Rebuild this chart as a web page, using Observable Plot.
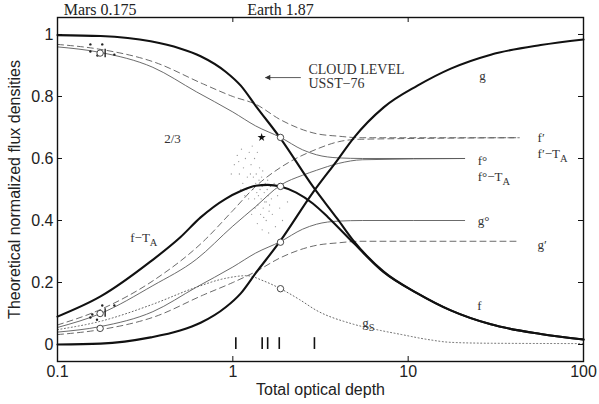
<!DOCTYPE html>
<html><head><meta charset="utf-8">
<script src="https://cdn.jsdelivr.net/npm/d3@7"></script>
<script src="https://cdn.jsdelivr.net/npm/@observablehq/plot@0.6"></script>
<style>body{margin:0;background:#fff}</style>
</head><body><div id="chart"></div>
<script>
// axes
const xTicks = [0.1, 1, 10, 100];
const xTickLabels = ["0.1", "1", "10", "100"];
const yTicks = [0, 0.2, 0.4, 0.6, 0.8, 1];
const yTickLabels = ["0", "0.2", "0.4", "0.6", "0.8", "1"];

// thick curves
const tauThick = [0.1, 0.176, 0.34, 0.5, 0.655, 0.91, 1.11, 1.35, 1.87, 2.86, 3.95, 4.87, 7.25, 11.3, 17.5, 29.6, 57, 100];
const gThick   = [0.0, 0.003, 0.023, 0.045, 0.07, 0.12, 0.165, 0.23, 0.335, 0.49, 0.595, 0.665, 0.765, 0.835, 0.89, 0.935, 0.966, 0.984];
const fThick   = [0.998, 0.995, 0.978, 0.955, 0.93, 0.88, 0.835, 0.77, 0.665, 0.51, 0.405, 0.335, 0.235, 0.165, 0.11, 0.065, 0.034, 0.016];
const tauFTA   = [0.1, 0.176, 0.34, 0.5, 0.655, 0.91, 1.11, 1.35, 1.58, 1.87, 2.3, 2.86, 3.5, 4.87, 7.25, 11.3, 17.5, 29.6, 57, 100];
const fTA      = [0.09, 0.155, 0.268, 0.345, 0.41, 0.47, 0.495, 0.512, 0.515, 0.51, 0.49, 0.455, 0.41, 0.328, 0.233, 0.165, 0.11, 0.065, 0.034, 0.016];

// thin solid (o) curves
const tauO   = [0.1, 0.176, 0.35, 0.62, 1.0, 1.35, 1.87, 2.5, 3.0, 4.0, 5.5, 21];
const fO     = [0.96, 0.942, 0.894, 0.815, 0.75, 0.705, 0.668, 0.628, 0.612, 0.602, 0.6, 0.6];
const fOTA   = [0.055, 0.10, 0.19, 0.275, 0.382, 0.445, 0.514, 0.546, 0.562, 0.584, 0.596, 0.6];
const gO     = [0.04, 0.058, 0.106, 0.185, 0.25, 0.295, 0.332, 0.372, 0.388, 0.398, 0.4, 0.4];

// thin dashed (') curves
const tauP   = [0.1, 0.176, 0.36, 0.68, 1.0, 1.35, 1.87, 3.0, 4.0, 5.3, 43];
const fP     = [0.968, 0.952, 0.91, 0.84, 0.80, 0.775, 0.725, 0.68, 0.672, 0.667, 0.667];
const fPTA   = [0.063, 0.113, 0.21, 0.333, 0.432, 0.51, 0.571, 0.63, 0.654, 0.662, 0.667];
const gP     = [0.032, 0.048, 0.09, 0.16, 0.20, 0.235, 0.28, 0.32, 0.328, 0.333, 0.333];

// dotted g_S
const tauS = [0.1, 0.176, 0.35, 0.6, 0.9, 1.2, 1.5, 1.87, 2.4, 3.0, 4.7, 7, 9, 13, 17.5, 30, 100];
const gS   = [0.048, 0.075, 0.13, 0.182, 0.213, 0.222, 0.205, 0.18, 0.145, 0.11, 0.068, 0.045, 0.033, 0.016, 0.007, 0.004, 0.003];

// model points (open circles) at Mars 0.175 and Earth 1.87
const circTau = [0.175, 0.175, 0.175, 1.87, 1.87, 1.87, 1.87];
const circVal = [0.94, 0.10, 0.052, 0.668, 0.51, 0.33, 0.18];

// observations near Mars
const marsTau = [0.154, 0.18, 0.154, 0.169, 0.211, 0.154, 0.158, 0.168, 0.18, 0.211];
const marsVal = [0.968, 0.968, 0.945, 0.932, 0.935, 0.087, 0.097, 0.08, 0.126, 0.126];
const barTau = [0.187, 0.187];
const barLo  = [0.925, 0.088];
const barHi  = [0.952, 0.115];

// observation cloud near Earth
const cloudTau = [1.30,1.33,1.35,1.37,1.39,1.41,1.43,1.45,1.47,1.49,1.51,1.53,1.55,1.57,1.59,1.62,1.64,1.66,1.34,1.40,1.46,1.52,1.58,1.44,1.50,1.36,1.42,1.48,1.31,1.61,
  1.02,1.06,1.09,1.12,1.15,1.18,1.21,1.24,1.27,1.29,1.14,1.20,1.26,1.08,1.33,1.38,1.23,1.17,0.98,1.11,
  1.28,1.38,1.55,1.68,1.75,1.47,1.60,1.85,1.72,1.80,1.92,2.05];
const cloudVal = [0.50,0.47,0.52,0.49,0.45,0.53,0.50,0.47,0.51,0.44,0.49,0.52,0.46,0.50,0.48,0.45,0.51,0.47,0.44,0.48,0.54,0.46,0.53,0.42,0.41,0.55,0.57,0.56,0.54,0.43,
  0.58,0.61,0.55,0.63,0.57,0.60,0.54,0.62,0.58,0.64,0.52,0.50,0.55,0.59,0.60,0.62,0.47,0.48,0.55,0.50,
  0.42,0.39,0.40,0.42,0.38,0.37,0.36,0.44,0.52,0.48,0.40,0.46];
const starTau = [1.46];
const starVal = [0.668];

// measured optical depths (bars at bottom)
const depthBars = [1.04, 1.47, 1.58, 1.84, 2.92];

// annotations
const curveLabels = [
  {t: 26.5, v: 0.868, s: "g", a: "middle"},
  {t: 54.7, v: 0.668, s: "f\u2032", a: "start"},
  {t: 54.7, v: 0.616, s: "f\u2032\u2212T_A", a: "start"},
  {t: 24.9, v: 0.592, s: "f\u00B0", a: "start"},
  {t: 24.9, v: 0.541, s: "f\u00B0\u2212T_A", a: "start"},
  {t: 24.9, v: 0.398, s: "g\u00B0", a: "start"},
  {t: 54.7, v: 0.320, s: "g\u2032", a: "start"},
  {t: 25.5, v: 0.126, s: "f", a: "middle"},
  {t: 5.94, v: 0.070, s: "g_S", a: "middle"},
  {t: 0.26, v: 0.345, s: "f\u2212T_A", a: "start"},
  {t: 0.453, v: 0.665, s: "2/3", a: "middle"}
];
const noteLines = ["CLOUD LEVEL", "USST\u221276"];
const noteTau = [2.70, 2.70];
const noteVal = [0.887, 0.842];
const topLabels = ["Mars 0.175", "Earth 1.87"];
const topTau = [0.175, 1.87];
const arrowFrom = [2.43], arrowTo = [1.54], arrowVal = [0.861];

const mk = (xs, ys) => xs.map((x, i) => ({x, y: ys[i]}));
const serif = "Liberation Serif, Times New Roman, serif";
const thin = {x: "x", y: "y", stroke: "#5a5a5a", strokeWidth: 0.9, curve: "monotone-x"};
const thick = {x: "x", y: "y", stroke: "#111", strokeWidth: 2.1, curve: "monotone-x"};

const chart = Plot.plot({
  width: 599, height: 404,
  marginLeft: 57, marginRight: 16, marginTop: 17, marginBottom: 43,
  x: {type: "log", domain: [0.1, 100], axis: null},
  y: {domain: [-0.0548, 1.0548], axis: null},
  style: {background: "#fff", fontFamily: "Liberation Sans, Arial, sans-serif", fontSize: "16px", color: "#111"},
  marks: [
    // cloud of observations
    Plot.dot(mk(cloudTau, cloudVal), {x: "x", y: "y", r: 0.65, fill: "#999", stroke: null}),
    // thin curves
    Plot.line(mk(tauO, fO), thin),
    Plot.line(mk(tauO, fOTA), thin),
    Plot.line(mk(tauO, gO), thin),
    Plot.line(mk(tauP, fP), {...thin, strokeDasharray: "6,4"}),
    Plot.line(mk(tauP, fPTA), {...thin, strokeDasharray: "6,4"}),
    Plot.line(mk(tauP, gP), {...thin, strokeDasharray: "6,4"}),
    Plot.line(mk(tauS, gS), {...thin, stroke: "#666", strokeWidth: 1, strokeDasharray: "1,2.5"}),
    // thick curves
    Plot.line(mk(tauThick, fThick), thick),
    Plot.line(mk(tauThick, gThick), thick),
    Plot.line(mk(tauFTA, fTA), thick),
    // Mars observations
    Plot.dot(mk(marsTau, marsVal), {x: "x", y: "y", r: 1.2, fill: "#222", stroke: null}),
    Plot.ruleX(barTau.map((t, i) => ({t, lo: barLo[i], hi: barHi[i]})), {x: "t", y1: "lo", y2: "hi", stroke: "#222", strokeWidth: 1.4}),
    Plot.dot(mk(starTau, starVal), {x: "x", y: "y", symbol: "star", r: 2.6, fill: "#111", stroke: null}),
    // model circles
    Plot.dot(mk(circTau, circVal), {x: "x", y: "y", r: 3.2, fill: "#fff", stroke: "#333", strokeWidth: 0.9}),
    // bars at bottom
    Plot.ruleX(depthBars, {x: d => d, y1: -0.016, y2: 0.022, stroke: "#111", strokeWidth: 1.6}),
    // arrow
    Plot.arrow(arrowVal.map((v, i) => ({x1: arrowFrom[i], x2: arrowTo[i], y: v})), {x1: "x1", x2: "x2", y1: "y", y2: "y", stroke: "#333", strokeWidth: 0.8, headLength: 7, headAngle: 35}),
    Plot.dot(arrowVal.map((v, i) => ({x: arrowTo[i], y: v})), {x: "x", y: "y", symbol: "triangle2", r: 2.6, rotate: -90, dx: 3, fill: "#333", stroke: null}),
    // labels
    Plot.text(curveLabels.filter(d => d.a === "start"), {x: "t", y: "v", text: "s", textAnchor: "start", fontFamily: serif, fontSize: 13, fill: "#333"}),
    Plot.text(curveLabels.filter(d => d.a === "middle"), {x: "t", y: "v", text: "s", textAnchor: "middle", fontFamily: serif, fontSize: 13, fill: "#333"}),
    Plot.text(noteLines, {x: (d, i) => noteTau[i], y: (d, i) => noteVal[i], text: d => d, textAnchor: "start", fontFamily: serif, fontSize: 14, fill: "#333"}),
    Plot.text(topLabels, {x: (d, i) => topTau[i], frameAnchor: "top", dy: -8, lineAnchor: "middle", text: d => d, fontFamily: serif, fontSize: 16, fill: "#222"}),
    // frame and ticks
    Plot.frame({stroke: "#111", strokeWidth: 1.4}),
    Plot.tickX(xTicks, {x: d => d, insetTop: 339, stroke: "#111"}),
    Plot.tickX(xTicks, {x: d => d, insetBottom: 339, stroke: "#111"}),
    Plot.tickY(yTicks, {y: d => d, insetRight: 521, stroke: "#111"}),
    Plot.tickY(yTicks, {y: d => d, insetLeft: 521, stroke: "#111"}),
    Plot.text(xTicks, {x: d => d, frameAnchor: "bottom", dy: 10, lineAnchor: "middle", text: (d, i) => xTickLabels[i], fontSize: 16, fill: "#222"}),
    Plot.text(yTicks, {y: d => d, frameAnchor: "left", dx: -4, textAnchor: "end", text: (d, i) => yTickLabels[i], fontSize: 16, fill: "#222"}),
    Plot.text(["Total optical depth"], {frameAnchor: "bottom", dy: 28, lineAnchor: "middle", text: d => d, fontSize: 16, fill: "#222"}),
    Plot.text(["Theoretical normalized flux densities"], {frameAnchor: "left", dx: -43, rotate: -90, textAnchor: "middle", lineAnchor: "middle", text: d => d, fontSize: 16, fill: "#222"})
  ]
});
document.getElementById("chart").appendChild(chart);

// render "_X" as a subscript
chart.querySelectorAll("text").forEach(t => {
  if (t.children.length === 0 && t.textContent.includes("_")) {
    const s = t.textContent, i = s.indexOf("_");
    t.textContent = s.slice(0, i);
    const ts = document.createElementNS("http://www.w3.org/2000/svg", "tspan");
    ts.setAttribute("dy", "0.4em");
    ts.setAttribute("font-size", "0.8em");
    ts.textContent = s.slice(i + 1);
    t.appendChild(ts);
  }
});
</script>
</body></html>
